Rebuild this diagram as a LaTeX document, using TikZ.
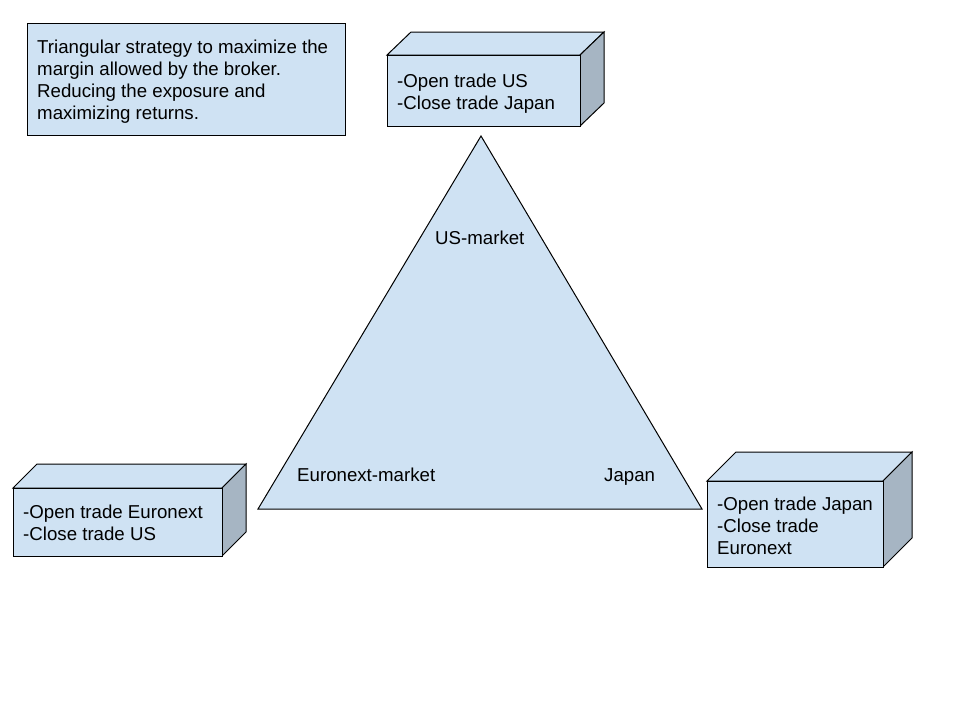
\documentclass[tikz,border=0pt]{standalone}
\usepackage{fontspec}
\setmainfont{Liberation Sans}
\definecolor{boxfill}{HTML}{CFE2F3}
\definecolor{sidefill}{HTML}{A6B5C3}
\begin{document}
\begin{tikzpicture}[x=1pt,y=-1pt,line join=miter,
  face/.style={draw=black,line width=1pt,fill=boxfill},
  side/.style={draw=black,line width=1pt,fill=sidefill},
  txt/.style={anchor=base west,inner sep=0pt,font=\fontsize{18.67}{22}\selectfont}]
\useasboundingbox[fill=white] (0,0) rectangle (960,720);

% note box
\draw[face] (27,23) rectangle (345,135);
\node[txt] (n1) at (37,53) {Triangular strategy to maximize the};
\node[txt] (n2) at (37,75) {margin allowed by the broker.};
\node[txt] (n3) at (37,97) {Reducing the exposure and};
\node[txt] (n4) at (37,119) {maximizing returns.};

% triangle
\coordinate (apex) at (481,136);
\coordinate (bl) at (258,509);
\coordinate (br) at (702,509);
\draw[face] (apex) -- (br) -- (bl) -- cycle;
\node[txt] (us) at (435,244) {US-market};
\node[txt] (eu) at (297,481) {Euronext-market};
\node[txt] (jp) at (604,481) {Japan};

% top cube
\coordinate (a1) at (387,55); \coordinate (a2) at (580,126);
\draw[face] (a1) -- ++(24,-23) -- (604,32) -- (580,55) -- cycle;
\draw[side] (580,55) -- (604,32) -- (604,103) -- (a2) -- cycle;
\draw[face] (a1) rectangle (a2);
\node[txt] (t1) at (397,87) {-Open trade US};
\node[txt] (t2) at (397,109) {-Close trade Japan};

% left cube
\coordinate (b1) at (13,488); \coordinate (b2) at (222,556);
\draw[face] (b1) -- (37,464) -- (246,464) -- (222,488) -- cycle;
\draw[side] (222,488) -- (246,464) -- (246,532) -- (b2) -- cycle;
\draw[face] (b1) rectangle (b2);
\node[txt] (l1) at (23,518) {-Open trade Euronext};
\node[txt] (l2) at (23,540) {-Close trade US};

% right cube
\coordinate (c1) at (707,481); \coordinate (c2) at (883,567);
\draw[face] (c1) -- (736,452) -- (912,452) -- (883,481) -- cycle;
\draw[side] (883,481) -- (912,452) -- (912,538) -- (c2) -- cycle;
\draw[face] (c1) rectangle (c2);
\node[txt] (r1) at (717,510) {-Open trade Japan};
\node[txt] (r2) at (717,532) {-Close trade};
\node[txt] (r3) at (717,554) {Euronext};
\end{tikzpicture}
\end{document}
